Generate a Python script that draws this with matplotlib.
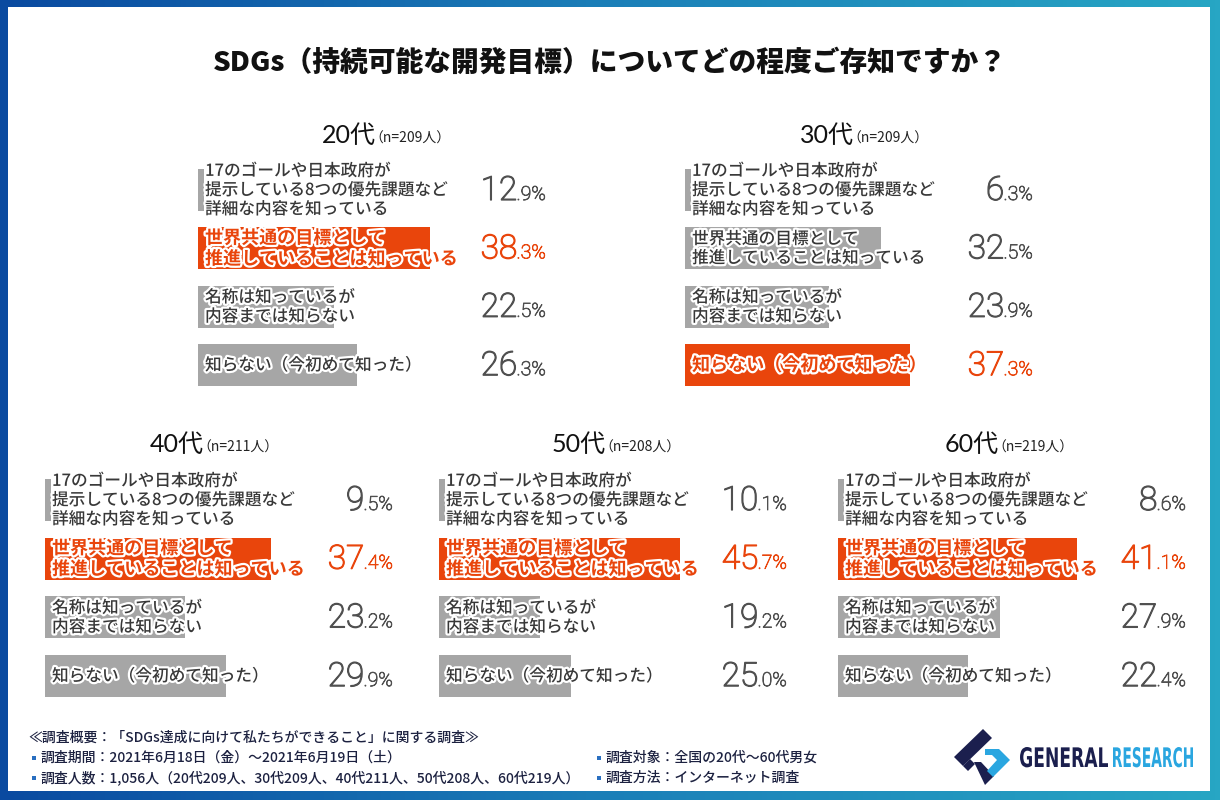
import matplotlib
matplotlib.use('Agg')
import matplotlib.pyplot as plt
import numpy as np
from matplotlib import patheffects as pe
from matplotlib.patches import Rectangle, Polygon, PathPatch
from matplotlib.transforms import blended_transform_factory, Affine2D
from matplotlib.textpath import TextPath
from matplotlib.font_manager import FontProperties
from matplotlib.colors import LinearSegmentedColormap

plt.rcParams['font.family'] = ['Noto Sans CJK JP', 'DejaVu Sans']

# ---------------- data ----------------
title = "SDGs（持続可能な開発目標）についてどの程度ご存知ですか？"
categories = [
    "17のゴールや日本政府が\n提示している8つの優先課題など\n詳細な内容を知っている",
    "世界共通の目標として\n推進していることは知っている",
    "名称は知っているが\n内容までは知らない",
    "知らない（今初めて知った）",
]
age_groups = ["20代", "30代", "40代", "50代", "60代"]
sample_sizes = [209, 209, 211, 208, 219]
values_20s = [12.9, 38.3, 22.5, 26.3]
values_30s = [6.3, 32.5, 23.9, 37.3]
values_40s = [9.5, 37.4, 23.2, 29.9]
values_50s = [10.1, 45.7, 19.2, 25.0]
values_60s = [8.6, 41.1, 27.9, 22.4]
all_values = [values_20s, values_30s, values_40s, values_50s, values_60s]

footer_head = "≪調査概要：「SDGs達成に向けて私たちができること」に関する調査≫"
footer_left = ["調査期間：2021年6月18日（金）～2021年6月19日（土）",
               "調査人数：1,056人（20代209人、30代209人、40代211人、50代208人、60代219人）"]
footer_right = ["調査対象：全国の20代～60代男女", "調査方法：インターネット調査"]

# ---------------- style ----------------
W, H = 1220, 800
GRAY = '#a6a6a6'
ORANGE = '#e9450c'
VALGRAY = '#505050'
LABELGRAY = '#383838'

# panel layout: bar-start x, first row center y, row spacing, xlim max, header x, header baseline
panels = [
    (198, 190, 58.4, 57.8, 322, 143),
    (685, 190, 58.4, 58.0, 800, 143),
    (45, 500, 58.7, 57.9, 150, 452),
    (439, 500, 58.7, 66.5, 552, 452),
    (838, 500, 58.7, 60.1, 945, 452),
]
PANEL_W = 350

fig = plt.figure(figsize=(12.2, 8), dpi=100)
bg = fig.add_axes([0, 0, 1, 1])
bg.set_xlim(0, W)
bg.set_ylim(H, 0)
bg.axis('off')

# gradient frame
grad = np.linspace(0, 1, 256)[None, :]
cmap = LinearSegmentedColormap.from_list('frame', ['#0a4aa0', '#1b7fb8', '#27a6c4'])
bg.imshow(grad, extent=(0, W, H, 0), aspect='auto', cmap=cmap, zorder=0)
bg.add_patch(Rectangle((8, 7), W - 18, H - 16, facecolor='white', edgecolor='none', zorder=1))

bg.text(610, 62, title, ha='center', va='center', fontsize=20, fontweight='heavy',
        color='#111111', zorder=3)

num_family = ['Roboto', 'DejaVu Sans']
stroke_w = [pe.withStroke(linewidth=3.2, foreground='white')]

for p, (x0, c1, s, xmax, hx, hy) in enumerate(panels):
    vals = all_values[p]
    top = c1 - s / 2
    h = 4 * s
    ax = fig.add_axes([x0 / W, 1 - (top + h) / H, PANEL_W / W, h / H])
    ax.set_xlim(0, xmax)
    ax.set_ylim(3.5, -0.5)
    ax.axis('off')
    imax = int(np.argmax(vals))
    colors = [ORANGE if i == imax else GRAY for i in range(4)]
    ax.barh(range(4), vals, height=42 / s, color=colors, zorder=1)
    tr = blended_transform_factory(ax.transAxes, ax.transData)
    for i, (cat, v) in enumerate(zip(categories, vals)):
        hi = (i == imax)
        kw = dict(transform=tr, ha='left', va='center', zorder=3,
                  path_effects=stroke_w)
        if hi:
            kw.update(fontsize=13, fontweight='bold', color=ORANGE, linespacing=1.12)
        else:
            kw.update(fontsize=12, fontweight='medium', color=LABELGRAY, linespacing=1.08)
        if i == 0:
            kw['bbox'] = dict(facecolor='white', edgecolor='none', pad=1.0)
        ax.text(7 / PANEL_W, i, cat, **kw)
        # value text: big integer + small decimal
        ip, dp = f"{v:.1f}".split('.')
        col = ORANGE if hi else VALGRAY
        thick = [pe.withStroke(linewidth=0.9, foreground=col)]
        yb = i + 10 / s
        dec = ax.text(348 / PANEL_W, yb, f".{dp}%", transform=tr, ha='right', va='baseline',
                      fontsize=14, family=num_family, fontweight='light', color=col, zorder=3,
                      path_effects=[pe.withStroke(linewidth=0.6, foreground=col)])
        ax.annotate(ip, xy=(0, yb), xycoords=(dec, 'data'), xytext=(0.5, 0),
                    textcoords='offset points', ha='right', va='baseline',
                    fontsize=24, family=num_family, fontweight='light', color=col, zorder=3,
                    path_effects=thick)
    # header
    ht = bg.text(hx, hy, age_groups[p], ha='left', va='baseline', fontsize=18,
                 family=['Lato', 'Noto Sans CJK JP'], color='#111111', zorder=3)
    bg.annotate(f"（n={sample_sizes[p]}人）", xy=(1.0, hy), xycoords=(ht, 'data'),
                xytext=(-5, 0), textcoords='offset points',
                ha='left', va='baseline', fontsize=10, color='#222222', zorder=3)

# footer
FOOT = '#1c2140'
bg.text(28, 738, footer_head, ha='left', va='center', fontsize=10, fontweight='medium',
        color=FOOT, zorder=3)
for k, t in enumerate(footer_left):
    y = 758 + 20 * k
    bg.add_patch(Rectangle((32, y - 2), 4, 4, facecolor='#2a6fc0', edgecolor='none', zorder=3))
    bg.text(41, y, t, ha='left', va='center', fontsize=10, fontweight='medium', color=FOOT, zorder=3)
for k, t in enumerate(footer_right):
    y = 758 + 20 * k
    bg.add_patch(Rectangle((597, y - 2), 4, 4, facecolor='#2a6fc0', edgecolor='none', zorder=3))
    bg.text(606, y, t, ha='left', va='center', fontsize=10, fontweight='medium', color=FOOT, zorder=3)

# logo icon
NAVY = '#1b1f4e'
LBLUE = '#2aa6e0'
bg.add_patch(Polygon([(983, 729), (992, 738), (963, 766), (954, 757)], closed=True,
                     facecolor=NAVY, edgecolor='none', zorder=3))
bg.add_patch(Polygon([(963, 766), (970, 759), (975, 764), (968, 771)], closed=True,
                     facecolor=NAVY, edgecolor='none', zorder=3))
bg.add_patch(Polygon([(974, 762), (981, 762), (994, 776), (985, 785)], closed=True,
                     facecolor=NAVY, edgecolor='none', zorder=3))
bg.add_patch(Polygon([(985, 749), (999, 749), (1010, 760), (993, 777), (987, 771),
                      (997, 760), (992, 755), (985, 755)], closed=True,
                     facecolor=LBLUE, edgecolor='none', zorder=3))


def path_text(s, xl, xr, ytop, ybase, color):
    fp = FontProperties(family='DejaVu Sans', weight='bold')
    tp = TextPath((0, 0), s, size=1, prop=fp)
    ext = tp.get_extents()
    sx = (xr - xl) / ext.width
    sy = (ybase - ytop) / ext.y1
    trf = Affine2D().translate(-ext.x0, 0).scale(sx, -sy).translate(xl, ybase)
    path = trf.transform_path(tp)
    bg.add_patch(PathPatch(path, facecolor=color, edgecolor='none', zorder=3))


path_text("GENERAL", 1020, 1108, 747, 767, NAVY)
path_text("RESEARCH", 1113, 1193, 747, 767, LBLUE)

fig.savefig('out.png', dpi=100)
